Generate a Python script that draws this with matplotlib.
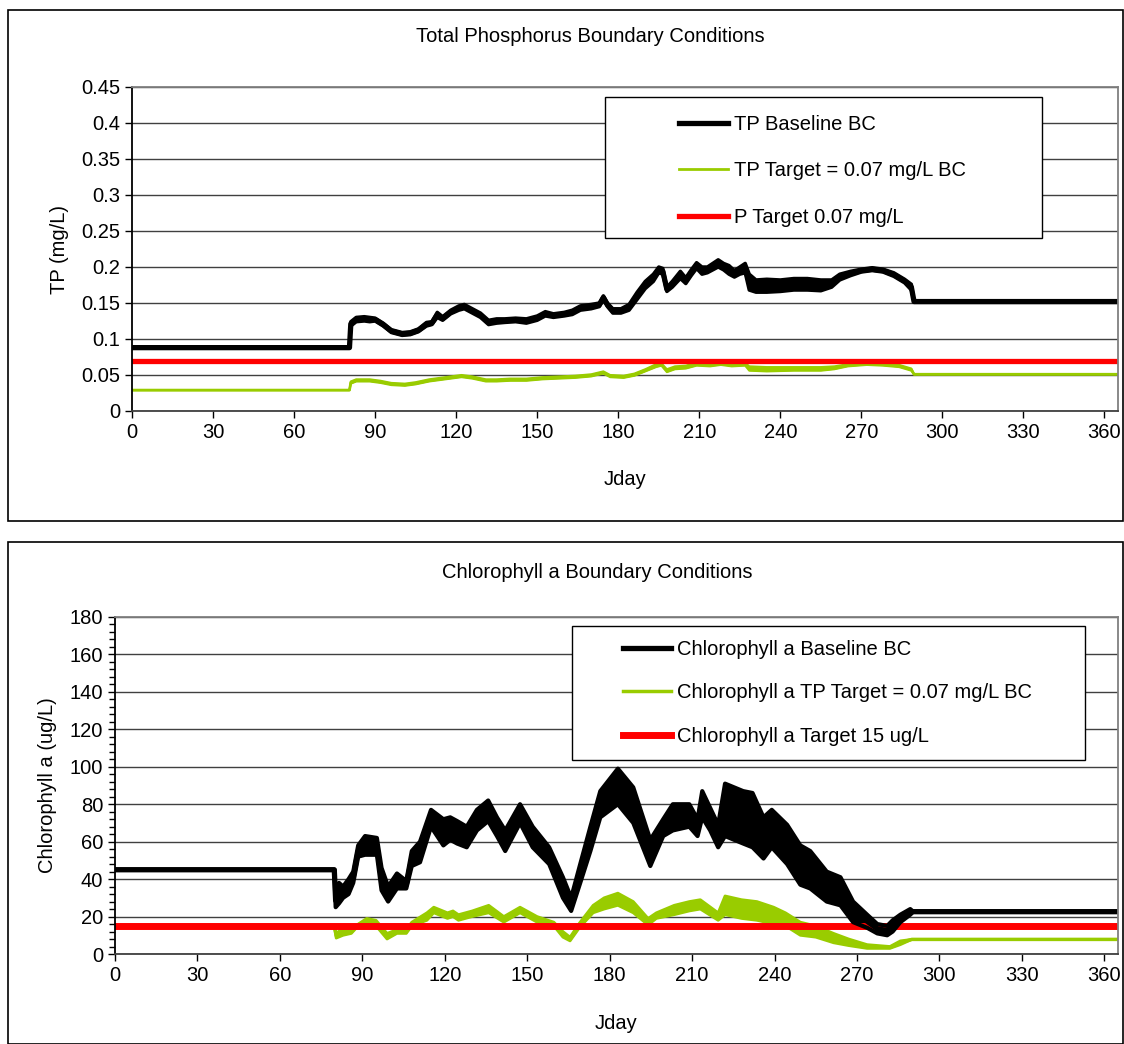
import numpy as np
import matplotlib
matplotlib.use("Agg")
import matplotlib.pyplot as plt
from matplotlib.patches import Rectangle

plt.rcParams['font.family'] = ['Liberation Sans', 'DejaVu Sans']

# ---- Total phosphorus (mg/L): day, lower / upper edge of the plotted trace
tp_days = [0, 80.5, 81, 83, 86, 88, 90, 93, 96, 100, 103, 106, 109, 111, 113, 115, 118, 121, 123,
           126, 129, 132, 135, 138, 142, 146, 150, 153, 156, 160, 163, 166, 170, 173, 174.5, 176,
           178, 181, 184, 187, 190, 193, 195, 196.5, 198, 200, 203, 205, 207, 209, 211, 213, 215,
           217, 219, 221, 223, 225, 227, 228.5, 231, 235, 240, 245, 250, 255, 259, 262, 266, 270,
           274, 278, 282, 286, 288.5, 289.5, 365]
tp_base_lo = [0.088, 0.088, 0.118, 0.124, 0.125, 0.124, 0.125, 0.118, 0.109, 0.105, 0.106, 0.110,
              0.118, 0.120, 0.130, 0.126, 0.135, 0.140, 0.142, 0.136, 0.130, 0.120, 0.122, 0.123,
              0.124, 0.122, 0.126, 0.132, 0.130, 0.132, 0.134, 0.140, 0.142, 0.145, 0.155, 0.145,
              0.136, 0.136, 0.140, 0.155, 0.170, 0.180, 0.192, 0.190, 0.166, 0.172, 0.184, 0.177,
              0.188, 0.198, 0.190, 0.192, 0.196, 0.200, 0.196, 0.190, 0.186, 0.190, 0.192, 0.168,
              0.165, 0.165, 0.166, 0.168, 0.168, 0.167, 0.172, 0.182, 0.188, 0.193, 0.195, 0.193,
              0.187, 0.178, 0.168, 0.152, 0.152]
tp_base_hi = [0.088, 0.088, 0.124, 0.130, 0.131, 0.130, 0.129, 0.122, 0.113, 0.109, 0.110, 0.114,
              0.123, 0.124, 0.137, 0.131, 0.140, 0.146, 0.148, 0.142, 0.136, 0.126, 0.128, 0.128,
              0.129, 0.128, 0.132, 0.138, 0.135, 0.137, 0.140, 0.146, 0.148, 0.150, 0.160, 0.150,
              0.142, 0.142, 0.148, 0.165, 0.180, 0.190, 0.200, 0.198, 0.172, 0.180, 0.194, 0.185,
              0.196, 0.206, 0.200, 0.200, 0.205, 0.210, 0.205, 0.202, 0.195, 0.200, 0.205, 0.190,
              0.182, 0.183, 0.182, 0.184, 0.184, 0.182, 0.182, 0.190, 0.194, 0.197, 0.199, 0.197,
              0.192, 0.183, 0.176, 0.152, 0.152]

tpt_days = [0, 80.5, 81, 83, 88, 92, 96, 101, 105, 110, 114, 118, 122, 126, 131, 135, 140, 146,
            152, 158, 164, 170, 174.5, 177, 182, 186, 190, 194, 196, 198, 201, 205, 209, 214, 218,
            222, 227, 228.5, 235, 245, 255, 260, 265, 272, 278, 284, 288.5, 289.5, 365]
tp_targ_lo = [0.029, 0.029, 0.038, 0.041, 0.041, 0.039, 0.036, 0.035, 0.037, 0.041, 0.043, 0.045,
              0.047, 0.045, 0.041, 0.041, 0.042, 0.042, 0.044, 0.045, 0.046, 0.048, 0.052, 0.047,
              0.046, 0.049, 0.055, 0.061, 0.063, 0.054, 0.058, 0.059, 0.063, 0.062, 0.064, 0.062,
              0.063, 0.056, 0.055, 0.056, 0.056, 0.058, 0.062, 0.064, 0.063, 0.061, 0.056, 0.051,
              0.051]
tp_targ_hi = [0.029, 0.029, 0.041, 0.044, 0.044, 0.042, 0.039, 0.038, 0.040, 0.044, 0.046, 0.048,
              0.050, 0.048, 0.044, 0.044, 0.045, 0.045, 0.047, 0.048, 0.049, 0.051, 0.055, 0.050,
              0.049, 0.052, 0.058, 0.065, 0.066, 0.058, 0.062, 0.063, 0.067, 0.066, 0.068, 0.066,
              0.067, 0.062, 0.061, 0.061, 0.061, 0.062, 0.065, 0.067, 0.066, 0.064, 0.059, 0.051,
              0.051]
tp_goal = 0.07

# ---- Chlorophyll a (ug/L)
chl_days = [0, 79.8, 80.3, 81.5, 83, 85, 86.7, 88.5, 91, 95.3, 97, 99.4, 102.6, 106, 108, 111, 115,
            119.5, 122, 124.5, 128, 131.7, 135.8, 139, 142, 147.4, 152, 158, 163, 166, 169.3, 173,
            176.6, 183, 188.6, 194.8, 199.5, 203, 209, 212, 213.7, 216.6, 219.5, 222, 228.6, 232,
            236, 239, 244.6, 249.4, 253, 259, 264, 268.6, 273.7, 277.4, 281, 283, 285.8, 289.4,
            290.5, 365]
chl_base_lo = [45, 45, 25, 27, 30, 32, 38, 52, 53, 53, 34, 28, 35, 35, 47, 49, 68, 58, 61, 59, 57,
               66, 71, 63, 55, 70, 57, 48, 30, 23, 38, 55, 73, 80, 70, 47, 63, 66, 68, 63, 73, 66,
               57, 63, 59, 57, 51, 57, 48, 37, 35, 28, 26, 17, 14, 11, 10, 12, 17, 21, 22.6, 22.6]
chl_base_hi = [45, 45, 32, 38, 36, 40, 44, 58, 63, 62, 46, 36, 43, 39, 55, 60, 77, 72, 73, 71, 68,
               77, 82, 73, 66, 80, 68, 57, 41, 30, 48, 68, 87, 99, 89, 61, 72, 80, 80, 72, 87, 78,
               69, 91, 87, 86, 73, 77, 69, 58, 55, 44, 41, 28, 21, 16, 15, 18, 21, 24, 22.6, 22.6]

chlt_days = [0, 79.8, 80.5, 83, 86, 88.5, 91.6, 95, 99, 102.6, 106, 108, 113.5, 116, 121, 123, 125,
             130, 136, 141.5, 147.4, 153.6, 159.7, 163, 165.6, 169, 174, 178, 183, 188.6, 194,
             197, 203.5, 209, 213, 219.5, 222, 228, 233.6, 239.7, 244, 249.4, 255, 261.5, 267,
             273.7, 282, 285.8, 290, 365]
chl_targ_lo = [15, 15, 8.5, 10, 11, 15, 16, 15, 8, 11, 11, 15, 18, 22, 19, 20, 18, 20, 22, 17, 22,
               17, 15, 9, 7, 14, 22, 24, 26, 22, 15.5, 19, 21, 23, 24, 18, 21, 19, 18, 16, 15, 10,
               9, 6, 4.5, 3, 3, 5, 7.8, 7.8]
chl_targ_hi = [15, 15, 11, 14, 13, 16, 19, 18, 11, 13, 13, 17, 22, 25, 22, 23, 21, 23, 26, 20, 25,
               20, 17, 12, 9, 16.5, 26, 30, 32.5, 28, 19, 22, 26, 28, 29, 22, 31, 29, 28, 25, 22,
               17, 15, 11, 8, 5, 4, 7, 7.8, 7.8]
chl_goal = 15

green = '#99cc00'
fs = 14.5

fig = plt.figure(figsize=(11.24, 10.44), dpi=100)

# panel frames (Excel chart areas)
fig.patches.append(Rectangle((8 / 1124, 1 - 521 / 1044), 1115 / 1124, 511 / 1044,
                             transform=fig.transFigure, fill=False, lw=1.2, ec='black'))
fig.patches.append(Rectangle((8 / 1124, 1 - 1044 / 1044), 1115 / 1124, 502 / 1044,
                             transform=fig.transFigure, fill=False, lw=1.2, ec='black'))


def style_axes(ax, ymax, ystep):
    ax.set_xlim(0, 365)
    ax.set_ylim(0, ymax)
    ax.set_xticks(np.arange(0, 361, 30))
    ax.set_yticks(np.arange(0, ymax + ystep / 2, ystep))
    ax.yaxis.grid(True, color='#404040', lw=1)
    ax.set_axisbelow(True)
    ax.tick_params(direction='out', length=5, width=1, labelsize=fs, color='black')
    ax.spines['left'].set_color('black')
    ax.spines['bottom'].set_color('#404040')
    ax.spines['top'].set_color('#808080')
    ax.spines['right'].set_color('#808080')
    for s in ax.spines.values():
        s.set_linewidth(1.3)


def band(ax, days, lo, hi, color, lw, edge):
    d = np.array(days)
    lo = np.array(lo)
    hi = np.array(hi)
    ax.fill_between(d, lo, hi, color=color, lw=0)
    ax.plot(d, lo, color=color, lw=edge)
    ax.plot(d, hi, color=color, lw=edge)
    line, = ax.plot(d, (lo + hi) / 2, color=color, lw=lw)
    return line


# ---------------- top chart
ax1 = fig.add_axes([132 / 1124, 1 - 411 / 1044, 986 / 1124, 324 / 1044])
style_axes(ax1, 0.45, 0.05)
ax1.set_yticklabels(['0', '0.05', '0.1', '0.15', '0.2', '0.25', '0.3', '0.35', '0.4', '0.45'])

l2 = band(ax1, tpt_days, tp_targ_lo, tp_targ_hi, green, 2, 1.5)
l3 = ax1.axhline(tp_goal, color='#ff0000', lw=3.8)
l1 = band(ax1, tp_days, tp_base_lo, tp_base_hi, 'black', 3.8, 2.5)

ax1.set_xlabel('Jday', fontsize=fs, labelpad=20)
ax1.set_ylabel('TP (mg/L)', fontsize=fs, labelpad=9)
fig.text(590 / 1124, 1 - 37 / 1044, 'Total Phosphorus Boundary Conditions',
         ha='center', va='center', fontsize=fs)

ax1.add_patch(Rectangle((0.4797, 0.534), 0.4432, 0.435, transform=ax1.transAxes,
                        fill=True, fc='white', ec='black', lw=1, zorder=5))
leg1 = ax1.legend([l1, l2, l3], ['TP Baseline BC', 'TP Target = 0.07 mg/L BC', 'P Target 0.07 mg/L'],
                  loc='upper left', bbox_to_anchor=(0.545, 0.946), frameon=False, borderpad=0,
                  handlelength=2.4, handletextpad=0.3, labelspacing=1.37, fontsize=fs)
leg1.set_zorder(6)

# ---------------- bottom chart
ax2 = fig.add_axes([115 / 1124, 1 - 954 / 1044, 1003 / 1124, 337 / 1044])
style_axes(ax2, 180, 20)
ax2.set_yticks(np.arange(0, 181, 4), minor=True)
ax2.tick_params(which='minor', direction='out', length=4, width=1, color='black')

m2 = band(ax2, chlt_days, chl_targ_lo, chl_targ_hi, green, 2.5, 2)
m3 = ax2.axhline(chl_goal, color='#ff0000', lw=5)
m1 = band(ax2, chl_days, chl_base_lo, chl_base_hi, 'black', 3.8, 3)

ax2.set_xlabel('Jday', fontsize=fs, labelpad=21)
ax2.set_ylabel('Chlorophyll a (ug/L)', fontsize=fs, labelpad=9)
fig.text(597 / 1124, 1 - 573 / 1044, 'Chlorophyll a Boundary Conditions',
         ha='center', va='center', fontsize=fs)

ax2.add_patch(Rectangle((0.4556, 0.576), 0.5114, 0.397, transform=ax2.transAxes,
                        fill=True, fc='white', ec='black', lw=1, zorder=5))
leg2 = ax2.legend([m1, m2, m3], ['Chlorophyll a Baseline BC', 'Chlorophyll a TP Target = 0.07 mg/L BC',
                                 'Chlorophyll a Target 15 ug/L'],
                  loc='upper left', bbox_to_anchor=(0.496, 0.962), frameon=False, borderpad=0,
                  handlelength=2.4, handletextpad=0.3, labelspacing=1.22, fontsize=fs)
leg2.set_zorder(6)

fig.savefig('out.png', dpi=100)
